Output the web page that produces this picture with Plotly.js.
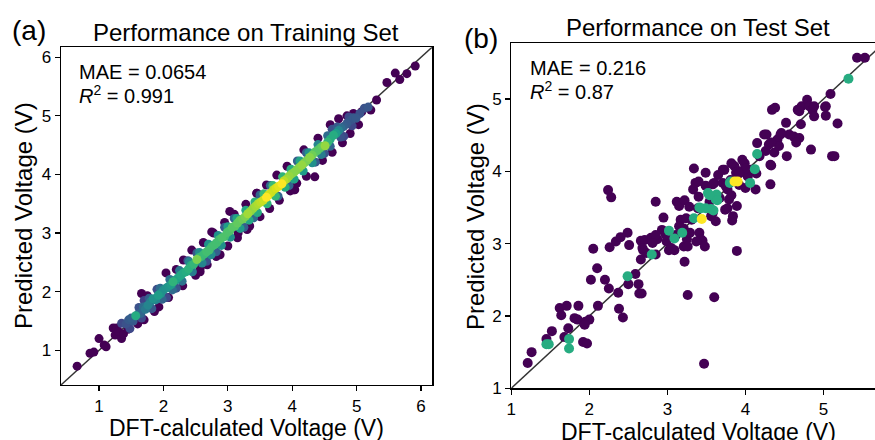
<!DOCTYPE html>
<html>
<head>
<meta charset="utf-8">
<script src="https://cdn.plot.ly/plotly-3.0.1.min.js"></script>
<style>html,body{margin:0;padding:0;background:#fff;}#chart{width:875px;height:440px;}</style>
</head>
<body>
<div id="chart"></div>
<script>
// ---------- Panel (a): training set (DFT x, predicted y, density colour c) ----------
const trainX = [
  // core
  1.42,1.46,1.50,1.53,1.57,1.61,1.65,1.69,1.72,1.76,1.80,1.84,1.88,1.92,1.96,2.00,2.04,2.08,2.12,2.15,
  2.19,2.23,2.27,2.31,2.35,2.39,2.43,2.47,2.52,2.55,2.59,2.63,2.67,2.71,2.75,2.79,2.83,2.87,2.91,2.95,
  2.99,3.03,3.07,3.11,3.15,3.19,3.23,3.27,3.31,3.35,3.39,3.43,3.47,3.51,3.55,3.60,3.63,3.67,3.71,3.75,
  3.79,3.84,3.87,3.91,3.95,3.99,4.03,4.07,4.11,4.15,4.19,4.23,4.27,4.31,4.35,4.39,4.43,4.47,4.51,4.55,
  4.59,4.64,4.68,4.72,4.76,4.80,4.85,4.90,4.95,4.99,5.05,5.12,5.18,
  // ring
  1.35,1.48,1.62,1.66,1.78,1.82,1.95,1.98,2.10,2.14,2.25,2.29,2.40,2.45,2.56,2.60,2.70,2.74,2.85,2.90,
  3.00,3.04,3.14,3.19,3.28,3.33,3.42,3.46,3.56,3.61,3.70,3.74,3.85,3.89,3.98,4.03,4.12,4.17,4.26,4.31,
  4.40,4.45,4.55,4.59,4.70,4.75,4.88,4.93,
  // outer ring
  1.70,2.05,2.38,2.67,2.95,3.25,3.50,3.78,4.08,4.36,4.62,4.80,
  1.90,2.20,2.52,2.82,3.10,3.40,3.66,3.95,4.22,4.50,
  // outliers
  0.66,0.86,0.92,1.00,1.08,1.11,1.22,1.27,1.25,1.30,1.35,1.38,1.45,1.60,1.66,1.70,1.75,1.86,1.93,2.04,
  2.08,2.20,2.30,2.44,2.50,2.57,2.62,2.68,2.78,2.82,2.95,3.00,3.10,3.15,3.28,3.30,3.45,3.50,3.60,3.65,
  3.76,3.80,3.92,3.97,4.04,4.18,4.22,4.35,4.40,4.47,4.59,4.62,4.72,4.78,4.95,5.03,5.08,5.22,5.31,5.47,
  5.60,5.67,5.78,5.91,4.90,4.85,
  2.31,2.75,3.03,3.45,2.57,2.88,3.16,3.34,4.02,4.07
];
const trainY = [
  1.45,1.52,1.55,1.50,1.59,1.62,1.63,1.74,1.70,1.77,1.83,1.88,1.86,1.94,1.97,2.03,2.06,2.09,2.12,2.17,
  2.20,2.24,2.28,2.32,2.34,2.39,2.45,2.47,2.55,2.58,2.60,2.64,2.68,2.71,2.77,2.80,2.84,2.89,2.92,2.94,
  3.01,3.04,3.10,3.12,3.17,3.22,3.24,3.28,3.33,3.37,3.42,3.46,3.50,3.53,3.56,3.61,3.65,3.69,3.74,3.77,
  3.80,3.84,3.89,3.92,3.97,4.01,4.04,4.08,4.12,4.16,4.20,4.24,4.29,4.33,4.38,4.41,4.45,4.48,4.49,4.55,
  4.60,4.67,4.70,4.75,4.79,4.82,4.87,4.92,4.97,4.96,5.04,5.13,5.15,
  1.46,1.37,1.73,1.55,1.89,1.71,2.06,1.87,2.21,2.03,2.36,2.18,2.51,2.34,2.67,2.49,2.81,2.63,2.96,2.79,
  3.11,2.93,3.25,3.08,3.39,3.22,3.53,3.35,3.67,3.50,3.81,3.63,3.96,3.78,4.09,3.92,4.23,4.06,4.37,4.20,
  4.51,4.34,4.66,4.48,4.81,4.64,4.98,4.83,
  1.85,1.90,2.53,2.52,3.10,3.10,3.65,3.63,4.23,4.21,4.77,4.65,
  2.04,2.06,2.66,2.68,3.25,3.26,3.81,3.81,4.37,4.36,
  0.73,0.95,0.97,1.20,1.09,1.06,1.38,1.38,1.26,1.32,1.20,1.28,1.36,1.45,1.97,1.52,1.93,1.66,1.74,2.32,
  1.90,2.38,2.10,2.71,2.28,2.34,2.84,2.46,3.00,2.60,3.18,2.78,3.32,2.92,3.49,3.06,3.68,3.28,3.82,3.42,
  3.99,3.56,4.14,3.72,3.74,4.42,3.97,3.96,4.62,4.24,4.85,4.38,4.95,4.54,5.04,4.85,5.07,5.10,5.27,5.57,
  5.73,5.62,5.72,5.85,4.70,5.00,
  2.54,3.02,3.37,3.68,2.40,2.63,3.00,3.12,3.74,3.85
];
const trainC = [
  0.25,0.28,0.30,0.28,0.62,0.30,0.33,0.35,0.40,0.45,0.42,0.50,0.45,0.55,0.50,0.48,0.50,0.52,0.55,0.65,
  0.55,0.58,0.60,0.60,0.62,0.64,0.62,0.66,0.80,0.68,0.66,0.68,0.70,0.70,0.68,0.70,0.70,0.70,0.72,0.70,
  0.72,0.72,0.74,0.74,0.76,0.76,0.78,0.80,0.86,0.82,0.84,0.86,0.88,0.90,0.92,1.00,0.93,0.92,0.90,0.94,
  0.96,1.00,0.90,0.86,0.84,0.82,0.82,0.80,0.82,0.84,0.80,0.80,0.82,0.78,0.74,0.74,0.72,0.76,0.84,0.66,
  0.62,0.62,0.55,0.45,0.35,0.30,0.28,0.26,0.28,0.28,0.25,0.25,0.27,
  0.22,0.22,0.25,0.22,0.30,0.28,0.35,0.32,0.38,0.35,0.40,0.38,0.45,0.42,0.48,0.45,0.50,0.48,0.50,0.50,
  0.55,0.52,0.58,0.55,0.60,0.60,0.65,0.62,0.68,0.65,0.68,0.66,0.65,0.62,0.62,0.58,0.58,0.55,0.50,0.50,
  0.45,0.42,0.35,0.32,0.28,0.25,0.22,0.22,
  0.20,0.22,0.25,0.25,0.28,0.30,0.32,0.32,0.30,0.28,0.25,0.22,
  0.24,0.26,0.28,0.30,0.32,0.34,0.34,0.32,0.30,0.26,
  0,0,0,0,0,0,0,0,0,0,0,0,0,0,0,0,0,0,0,0,
  0,0,0,0,0,0,0,0,0,0,0,0,0,0,0,0,0,0,0,0,
  0,0,0,0,0,0,0,0,0,0,0,0,0,0,0,0,0,0,0,0,
  0,0,0,0,0,0,
  0,0,0,0,0,0,0,0,0,0
];

// ---------- Panel (b): test set ----------
const testX = [
  1.21,1.26,1.45,1.52,1.62,1.64,1.71,1.68,1.73,1.86,1.81,1.85,1.95,2.00,1.92,1.97,1.94,2.02,2.05,2.10,
  2.11,2.20,2.24,2.28,2.26,2.25,2.34,2.40,2.37,2.38,2.43,2.49,2.51,2.50,2.59,2.63,2.64,2.67,2.66,2.71,
  2.69,2.66,2.79,2.73,2.81,2.85,2.87,2.85,2.95,2.93,2.99,3.02,3.09,3.12,3.15,3.17,3.21,3.21,3.22,3.26,
  3.25,3.29,3.31,3.33,3.34,3.36,3.39,3.40,3.41,3.43,3.45,3.48,3.47,3.49,3.49,3.54,3.56,3.60,3.62,3.65,
  3.67,3.71,3.71,3.74,3.77,3.79,3.81,3.83,3.86,3.88,3.89,3.89,3.92,3.94,3.96,3.99,4.03,4.00,4.07,4.13,
  4.15,4.18,4.24,4.26,4.30,4.32,4.32,4.34,4.38,4.37,4.41,4.43,4.45,4.52,4.53,4.56,4.62,4.67,4.69,4.71,
  4.72,4.79,4.82,4.84,4.86,4.88,5.02,5.03,5.09,5.11,5.14,5.18,5.43,5.53,
  3.73,3.82,4.01,3.92,4.14,3.40,3.60,3.75,3.82,3.22,3.28,3.77,3.24,3.15,3.11,2.98,2.85,2.68,2.81,3.05,
  3.26,3.37,4.27,4.33,4.46,4.65,4.69,4.88,5.03,4.33,3.58,3.84,3.58,
  // green
  1.45,1.48,1.74,1.74,2.49,2.80,3.02,3.09,3.19,3.34,3.43,3.49,3.56,3.59,3.52,3.62,3.63,3.80,4.06,4.12,
  4.15,5.32,3.41,3.54,3.64,3.81,
  // yellow
  3.44,3.86,3.90
];
const testY = [
  1.35,1.50,1.68,1.79,2.11,2.01,2.14,1.71,1.83,2.14,1.97,1.95,1.92,1.95,1.64,1.62,1.88,2.50,2.93,2.66,
  2.14,2.50,3.74,3.64,2.95,2.38,3.03,3.09,2.32,2.10,1.98,3.15,2.98,2.44,2.58,2.44,2.31,2.31,3.04,3.05,
  2.91,2.78,3.08,2.87,3.06,2.85,3.06,3.58,3.36,3.19,3.03,2.91,2.91,3.58,3.52,3.33,3.21,2.96,2.75,2.29,
  3.06,3.15,3.33,3.75,4.04,3.84,3.49,3.65,3.15,3.06,3.04,2.96,1.34,3.98,3.80,3.58,3.38,2.26,3.31,3.95,
  3.63,3.84,4.02,3.47,3.75,3.61,3.88,3.32,4.07,3.98,2.90,3.52,3.81,4.00,4.16,4.11,3.93,3.77,4.02,3.75,
  4.39,4.21,4.51,4.28,4.37,4.09,3.82,4.85,4.88,4.26,4.44,4.35,4.51,4.67,4.21,4.51,4.48,4.85,4.46,4.65,
  4.90,4.99,4.90,4.30,4.85,4.76,4.89,4.77,5.07,4.21,4.21,4.66,5.57,5.57,
  4.02,4.11,4.04,3.97,3.97,3.86,3.84,3.79,3.67,3.60,3.51,3.49,3.35,3.24,3.12,3.12,3.12,2.94,3.01,2.94,
  2.96,3.03,4.51,4.40,4.53,4.40,4.83,4.90,4.90,4.08,3.82,3.38,3.42,
  1.61,1.61,1.68,1.55,2.55,2.85,3.18,3.07,3.15,3.35,3.49,3.49,3.48,3.46,3.70,3.61,3.68,3.84,3.84,4.03,
  4.24,5.28,3.50,3.67,3.60,3.86,
  3.34,3.86,3.86
];
const testC = [
  0,0,0,0,0,0,0,0,0,0,0,0,0,0,0,0,0,0,0,0,
  0,0,0,0,0,0,0,0,0,0,0,0,0,0,0,0,0,0,0,0,
  0,0,0,0,0,0,0,0,0,0,0,0,0,0,0,0,0,0,0,0,
  0,0,0,0,0,0,0,0,0,0,0,0,0,0,0,0,0,0,0,0,
  0,0,0,0,0,0,0,0,0,0,0,0,0,0,0,0,0,0,0,0,
  0,0,0,0,0,0,0,0,0,0,0,0,0,0,0,0,0,0,0,0,
  0,0,0,0,0,0,0,0,0,0,0,0,0,0,
  0,0,0,0,0,0,0,0,0,0,0,0,0,0,0,0,0,0,0,0,
  0,0,0,0,0,0,0,0,0,0,0,0,0,
  0.62,0.62,0.62,0.62,0.62,0.62,0.62,0.62,0.62,0.62,0.62,0.62,0.62,0.62,0.62,0.62,0.62,0.62,0.62,0.62,
  0.62,0.62,0.62,0.62,0.62,0.62,
  1,1,1
];

const trainTicks = [1,2,3,4,5,6];
const testTicks = [1,2,3,4,5];
const trainRange = [0.405, 6.175];
const testRangeX = [1, 5.66];
const testRangeY = [1, 5.77];

function sortByC(xs, ys, cs) {
  const idx = xs.map((_, i) => i).sort((a, b) => cs[a] - cs[b]);
  return { x: idx.map(i => xs[i]), y: idx.map(i => ys[i]), c: idx.map(i => cs[i]) };
}
const tr = sortByC(trainX, trainY, trainC);
const te = sortByC(testX, testY, testC);

const FONT = 'Liberation Sans, Arial, Helvetica, sans-serif';

const traces = [
  { x: trainRange, y: trainRange, mode: 'lines', line: { color: '#333333', width: 1.5 }, xaxis: 'x', yaxis: 'y', hoverinfo: 'skip' },
  { x: tr.x, y: tr.y, mode: 'markers', xaxis: 'x', yaxis: 'y',
    marker: { size: 9, color: tr.c, colorscale: 'Viridis', cmin: 0, cmax: 1, line: { width: 0 }, opacity: 1 } },
  { x: [testRangeY[0], testRangeY[1]], y: [testRangeY[0], testRangeY[1]], mode: 'lines', line: { color: '#333333', width: 1.5 }, xaxis: 'x2', yaxis: 'y2', hoverinfo: 'skip' },
  { x: te.x, y: te.y, mode: 'markers', xaxis: 'x2', yaxis: 'y2',
    marker: { size: 10, color: te.c, colorscale: 'Viridis', cmin: 0, cmax: 1, line: { width: 0 }, opacity: 1 } }
];

const axBase = {
  ticks: 'outside', ticklen: 5, tickwidth: 1.2, tickcolor: '#000',
  showline: true, linecolor: '#000', linewidth: 1.2,
  showgrid: false, zeroline: false, tickfont: { size: 17, family: FONT, color: '#000' }
};

const P = (px) => px / 875;
const Q = (py) => 1 - py / 440;

const layout = {
  width: 875, height: 440,
  margin: { l: 0, r: 0, t: 0, b: 0 },
  paper_bgcolor: '#fff', plot_bgcolor: '#fff',
  showlegend: false,
  font: { family: FONT, color: '#000' },
  xaxis: Object.assign({}, axBase, { domain: [P(60.7), P(432.3)], range: trainRange, tickvals: trainTicks, mirror: true, anchor: 'y' }),
  yaxis: Object.assign({}, axBase, { domain: [Q(385), Q(47.3)], range: [0.408, 6.17], tickvals: trainTicks, mirror: true, anchor: 'x' }),
  xaxis2: Object.assign({}, axBase, { domain: [P(511.3), 1], range: testRangeX, tickvals: testTicks, mirror: true, anchor: 'y2' }),
  yaxis2: Object.assign({}, axBase, { domain: [Q(388.3), Q(43.3)], range: testRangeY, tickvals: testTicks, mirror: false, anchor: 'x2' }),
  annotations: [
    { text: '(a)', x: P(10), y: Q(31), xref: 'paper', yref: 'paper', xanchor: 'left', yanchor: 'middle', showarrow: false, font: { size: 28, family: FONT } },
    { text: '(b)', x: P(462), y: Q(38), xref: 'paper', yref: 'paper', xanchor: 'left', yanchor: 'middle', showarrow: false, font: { size: 28, family: FONT } },
    { text: 'Performance on Training Set', x: P(246.5), y: Q(32), xref: 'paper', yref: 'paper', xanchor: 'center', yanchor: 'middle', showarrow: false, font: { size: 24, family: FONT } },
    { text: 'Performance on Test Set', x: P(698), y: Q(28), xref: 'paper', yref: 'paper', xanchor: 'center', yanchor: 'middle', showarrow: false, font: { size: 24, family: FONT } },
    { text: 'Predicted Voltage (V)', x: P(23), y: Q(216), xref: 'paper', yref: 'paper', xanchor: 'center', yanchor: 'middle', textangle: -90, showarrow: false, font: { size: 24, family: FONT } },
    { text: 'Predicted Voltage (V)', x: P(475), y: Q(216), xref: 'paper', yref: 'paper', xanchor: 'center', yanchor: 'middle', textangle: -90, showarrow: false, font: { size: 24, family: FONT } },
    { text: 'DFT-calculated Voltage (V)', x: P(246.7), y: Q(428), xref: 'paper', yref: 'paper', xanchor: 'center', yanchor: 'middle', showarrow: false, font: { size: 23, family: FONT } },
    { text: 'DFT-calculated Voltage (V)', x: P(698), y: Q(432), xref: 'paper', yref: 'paper', xanchor: 'center', yanchor: 'middle', showarrow: false, font: { size: 23, family: FONT } },
    { text: 'MAE = 0.0654', x: P(77), y: Q(72), xref: 'paper', yref: 'paper', xanchor: 'left', yanchor: 'middle', showarrow: false, font: { size: 20, family: FONT } },
    { text: '<i>R</i><sup>2</sup> = 0.991', x: P(77), y: Q(94), xref: 'paper', yref: 'paper', xanchor: 'left', yanchor: 'middle', showarrow: false, font: { size: 20, family: FONT } },
    { text: 'MAE = 0.216', x: P(528), y: Q(68), xref: 'paper', yref: 'paper', xanchor: 'left', yanchor: 'middle', showarrow: false, font: { size: 20, family: FONT } },
    { text: '<i>R</i><sup>2</sup> = 0.87', x: P(528), y: Q(90), xref: 'paper', yref: 'paper', xanchor: 'left', yanchor: 'middle', showarrow: false, font: { size: 20, family: FONT } }
  ]
};

Plotly.newPlot('chart', traces, layout, { displayModeBar: false, staticPlot: true });
</script>
</body>
</html>
